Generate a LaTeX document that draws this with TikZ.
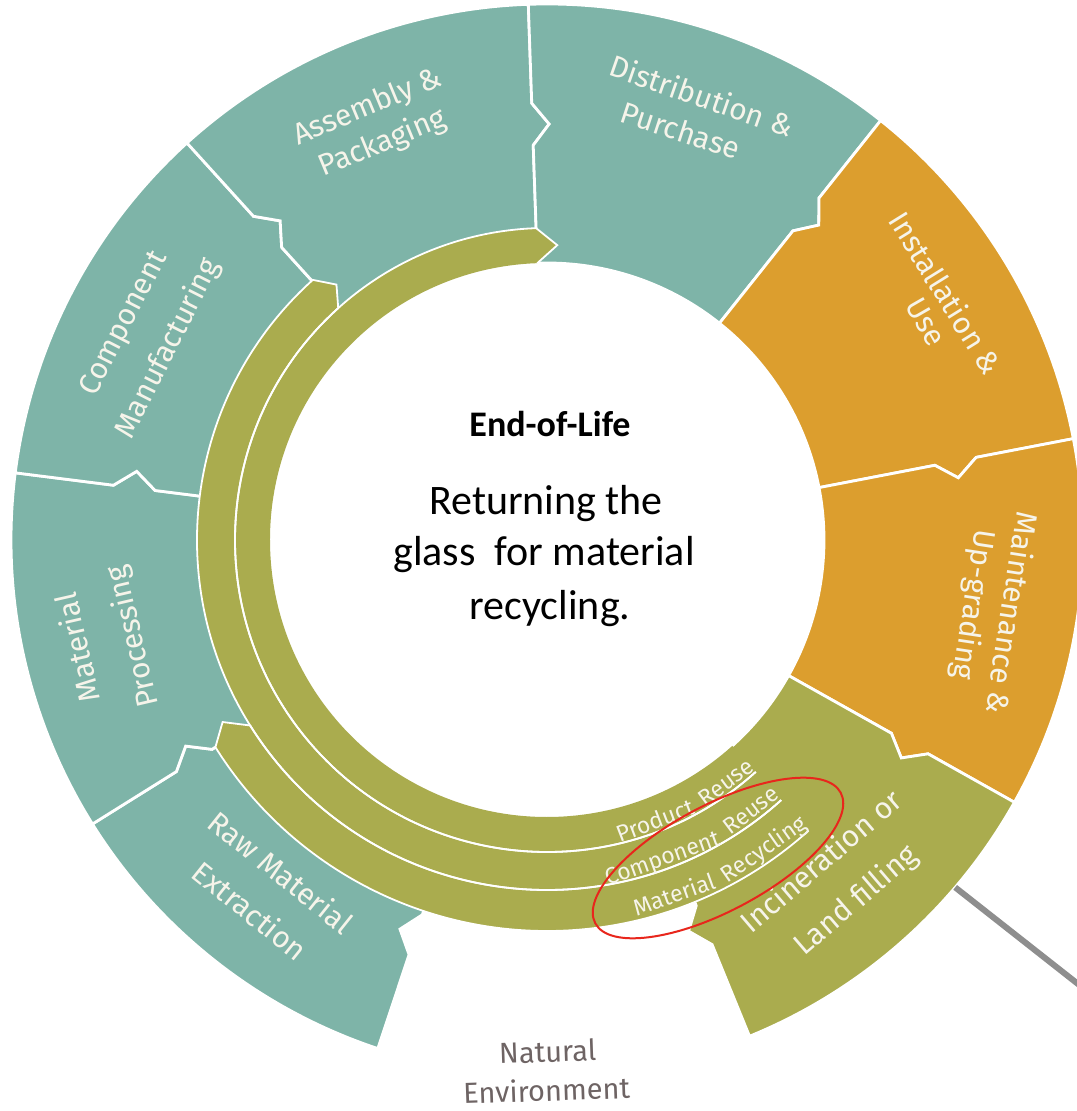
\documentclass[tikz,border=0pt]{standalone}
\usepackage{fontspec}
\setmainfont{Carlito}
\newfontfamily\segfamily{Fira Sans}
\definecolor{tealseg}{RGB}{126,180,168}
\definecolor{orangeseg}{RGB}{220,158,46}
\definecolor{oliveseg}{RGB}{170,172,78}
\definecolor{labc}{RGB}{246,244,234}
\definecolor{envc}{RGB}{110,100,100}
\definecolor{ringred}{RGB}{232,38,28}
\definecolor{greyline}{RGB}{142,142,142}
\newcommand\segfont{\segfamily\fontsize{15}{18}\selectfont}
\newcommand\bandfont{\segfamily\fontsize{11.5}{14}\selectfont}
\newcommand\envfont{\segfamily\fontsize{14.5}{17}\selectfont}
% annular segment with arrow notches: #1 ccw edge angle, #2 cw edge angle, #3 colour
\newcommand\lcseg[3]{%
  \filldraw[segline, fill=#3] (#1:536) arc[start angle=#1, end angle=#2, radius=536]
    -- (#2:437) -- ({#2-2.3}:416) -- (#2:395) -- (#2:277)
    arc[start angle=#2, end angle=#1, radius=277]
    -- (#1:395) -- ({#1-2.3}:416) -- (#1:437) -- cycle;}
% text reading clockwise (tops outward): #1 name, #2 angle, #3 baseline radius, #4 text
\newcommand\cwnode[4]{\node[seglab, rotate={#2-90}] (#1) at (#2:#3) {#4};}
% text reading counter-clockwise (tops inward)
\newcommand\ccwnode[4]{\node[seglab, rotate={#2+90}] (#1) at (#2:#3) {#4};}
\newcommand\bandword[4]{\node[bandlab, rotate={#2+90}] (#1) at (#2:#3) {#4};}
\tikzset{
  segline/.style={draw=white, line width=1.4pt, line join=miter},
  bandline/.style={draw=white, line width=0.9pt},
  seglab/.style={anchor=base, inner sep=0pt, text=labc, font=\segfont},
  bandlab/.style={anchor=base, inner sep=0pt, text=labc, font=\bandfont},
  ctext/.style={anchor=base, inner sep=0pt, text=black},
  envtext/.style={anchor=base, inner sep=0pt, text=envc, font=\envfont, rotate=2},
  redring/.style={draw=ringred, line width=1pt},
  greylink/.style={draw=greyline, line width=3pt},
}
\begin{document}
\begin{tikzpicture}[x=0.5pt, y=0.5pt]
\useasboundingbox (-547,-571) rectangle (529,540);
\fill[white] (-547,-571) rectangle (529,540);

% outer ring segments
\lcseg{-108.4}{-148}{tealseg}   % Raw Material Extraction
\lcseg{212}{172.8}{tealseg}     % Material Processing
\lcseg{172.8}{132.2}{tealseg}   % Component Manufacturing
\lcseg{132.2}{92}{tealseg}      % Assembly & Packaging
\lcseg{92}{51.5}{tealseg}       % Distribution & Purchase
\lcseg{51.5}{10.9}{orangeseg}   % Installation & Use
\lcseg{10.9}{-29.3}{orangeseg}  % Maintenance & Up-grading
\lcseg{-29.3}{-67.8}{oliveseg}  % Incineration or Land filling

% return loops (bands)
\fill[oliveseg] (-48:391) arc[start angle=-48, end angle=-148, radius=391]
  -- (-150.7:372) -- (-148:350) arc[start angle=-148, end angle=-48, radius=350] -- cycle;
\fill[oliveseg] (-48:350) arc[start angle=-48, end angle=-228, radius=350]
  -- (-230.5:331) -- (-228:312) arc[start angle=-228, end angle=-48, radius=312] -- cycle;
\fill[oliveseg] (-48:312) arc[start angle=-48, end angle=-268, radius=312]
  -- (-272:295) -- (-268:277) arc[start angle=-268, end angle=-48, radius=277] -- cycle;
\draw[bandline] (-48:391) arc[start angle=-48, end angle=-148, radius=391]
  -- (-150.7:372) -- (-148:350) arc[start angle=-148, end angle=-48, radius=350];
\draw[bandline] (-48:350) arc[start angle=-48, end angle=-228, radius=350]
  -- (-230.5:331) -- (-228:312) arc[start angle=-228, end angle=-48, radius=312];
\draw[bandline] (-48:312) arc[start angle=-48, end angle=-268, radius=312]
  -- (-272:295) -- (-268:277);

% segment labels
\cwnode{cm1}{152.9}{467}{Component}
\cwnode{cm2}{153.2}{416}{Manufacturing}
\cwnode{ap1}{112.5}{460}{Assembly \&}
\cwnode{ap2}{112.5}{421}{Packaging}
\cwnode{dp1}{70.8}{459}{Distribution \&}
\cwnode{dp2}{71.9}{420}{Purchase}
\cwnode{iu1}{31.8}{458}{Installation \&}
\cwnode{iu2}{29.9}{427}{Use}
\cwnode{mu1}{-8.9}{460}{Maintenance \&}
\cwnode{mu2}{-8.6}{422}{Up-grading}
\cwnode{mp1}{192.9}{471}{Material}
\cwnode{mp2}{193.1}{416}{Processing}
\ccwnode{rm1}{231.3}{437}{Raw Material}
\ccwnode{rm2}{231.3}{486}{Extraction}
\ccwnode{il1}{-49.5}{433}{Incineration or}
\ccwnode{il2}{-49.4}{484}{Land filling}

% band labels (word by word along the loops)
\bandword{pr1}{-69.0}{309}{Product}
\bandword{pr2}{-53.6}{309}{Reuse}
\bandword{cr1}{-70.1}{346}{Component}
\bandword{cr2}{-53.0}{346}{Reuse}
\bandword{mr1}{-70.3}{385}{Material}
\bandword{mr2}{-55.0}{385}{Recycling}

% centre text
\node[ctext, font=\fontsize{18}{22}\selectfont\bfseries] (eol) at (3,103) {End-of-Life};
\node[ctext, font=\fontsize{21}{25}\selectfont] (line1) at (-1,25) {Returning the};
\node[ctext, font=\fontsize{21}{25}\selectfont] (line2) at (-3,-26) {glass~ for material};
\node[ctext, font=\fontsize{21}{25}\selectfont] (line3) at (3,-80) {recycling.};

% natural environment
\node[envtext] (natural) at (1,-522) {Natural};
\node[envtext] (environment) at (0,-561) {Environment};

% highlight ellipse
\coordinate (ringc) at (171,-318);
\draw[redring, rotate around={28:(ringc)}] (ringc) ellipse [x radius=139, y radius=53];

% grey connector leaving the picture
\coordinate (gstart) at (-40.4:536);
\coordinate (gend) at (545,-455);
\draw[greylink] (gstart) -- (gend);
\end{tikzpicture}
\end{document}
